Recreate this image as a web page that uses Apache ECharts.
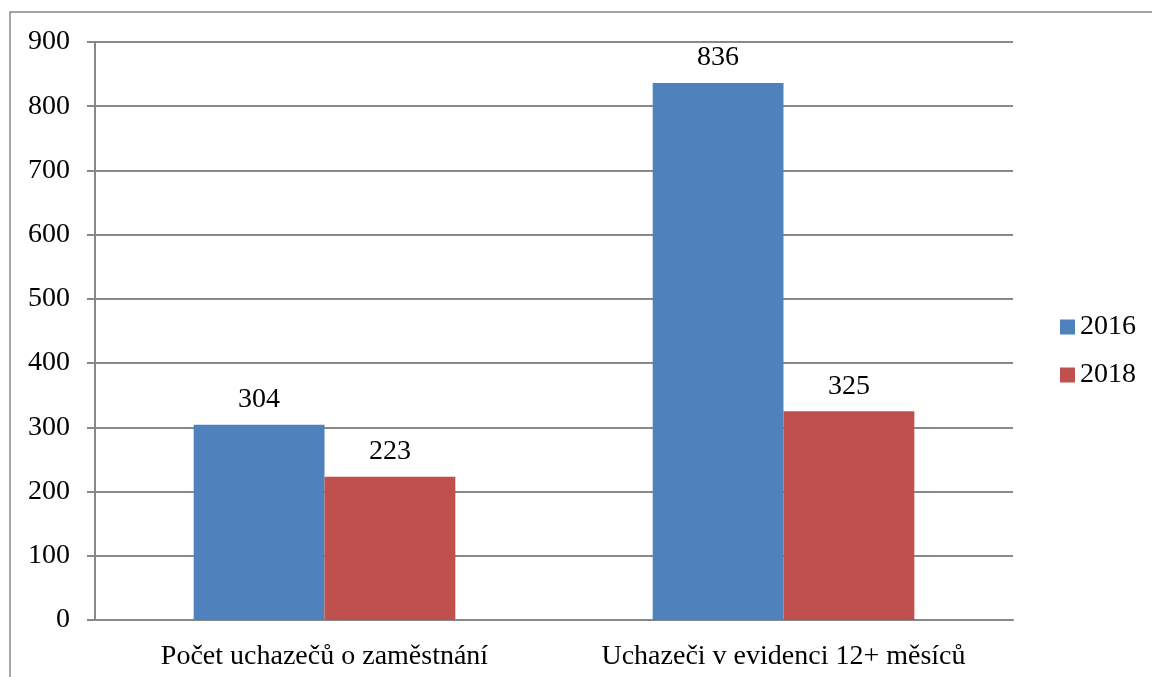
<!DOCTYPE html>
<html>
<head>
<meta charset="utf-8">
<script src="https://cdn.jsdelivr.net/npm/echarts@6/dist/echarts.min.js"></script>
<style>
html,body{margin:0;padding:0;background:#fff;}
#chart{width:1152px;height:677px;}
</style>
</head>
<body>
<div id="chart"></div>
<script>
// data
var categories = ['Počet uchazečů o zaměstnání', 'Uchazeči v evidenci 12+ měsíců'];
var seriesNames = ['2016', '2018'];
var values2016 = [304, 836];
var values2018 = [223, 325];

var FONT = 'Liberation Serif';

var myChart = echarts.init(document.getElementById('chart'));
var option = {
    textStyle: {fontFamily: FONT},
    graphic: [{
        type: 'rect',
        shape: {x: 10, y: 12, width: 1200, height: 720},
        style: {fill: 'none', stroke: '#888', lineWidth: 1.5},
        silent: true
    }],
    legend: {
        orient: 'vertical',
        left: 1055,
        top: 308,
        itemWidth: 15,
        itemHeight: 15,
        itemGap: 20,
        icon: 'rect',
        textStyle: {fontFamily: FONT, fontSize: 28, color: '#000'},
        data: seriesNames
    },
    grid: {left: 95, right: 139, top: 42, bottom: 57},
    xAxis: {
        type: 'category',
        data: categories,
        axisLine: {lineStyle: {color: '#888', width: 2}},
        axisTick: {length: 8, lineStyle: {color: '#888', width: 2}},
        axisLabel: {interval: 0, fontFamily: FONT, fontSize: 28, color: '#000', margin: 23}
    },
    yAxis: {
        type: 'value',
        min: 0,
        max: 900,
        interval: 100,
        axisLine: {show: true, lineStyle: {color: '#888', width: 2}},
        axisTick: {show: true, length: 8, lineStyle: {color: '#888', width: 2}},
        splitLine: {lineStyle: {color: '#888', width: 2}},
        axisLabel: {fontFamily: FONT, fontSize: 28, color: '#000', margin: 25}
    },
    series: [
        {
            name: seriesNames[0],
            type: 'bar',
            data: values2016,
            itemStyle: {color: '#4F81BD'},
            barGap: '0%',
            barCategoryGap: '43%',
            label: {show: true, position: 'top', distance: 11, fontFamily: FONT, fontSize: 28, color: '#000'}
        },
        {
            name: seriesNames[1],
            type: 'bar',
            data: values2018,
            itemStyle: {color: '#C0504D'},
            label: {show: true, position: 'top', distance: 11, fontFamily: FONT, fontSize: 28, color: '#000'}
        }
    ]
};
myChart.setOption(option);
</script>
</body>
</html>
